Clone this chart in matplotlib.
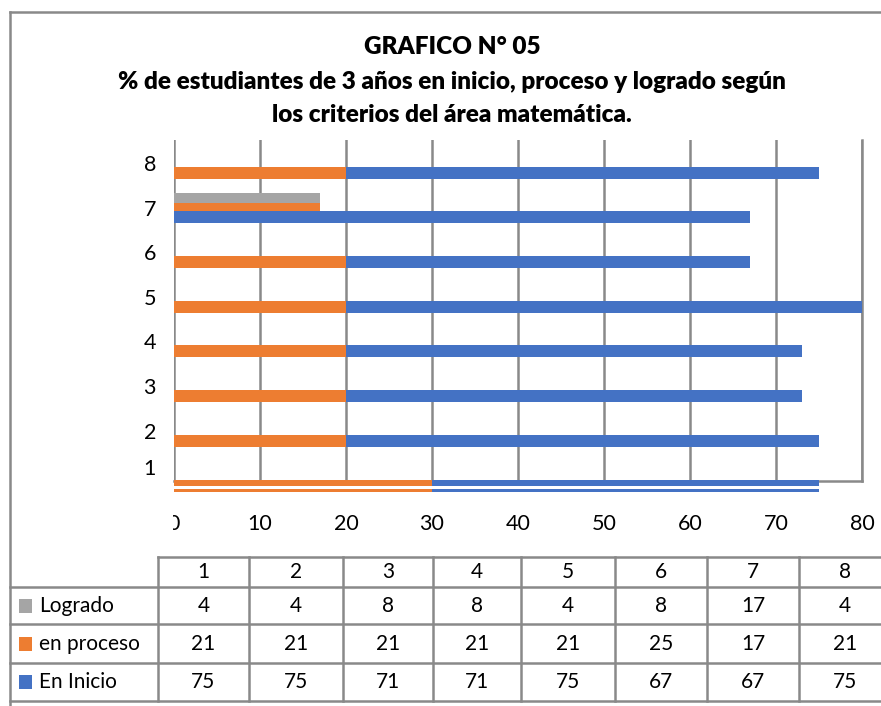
import matplotlib
matplotlib.use("Agg")
import matplotlib.pyplot as plt
from matplotlib.patches import Rectangle
from matplotlib.lines import Line2D

# ---- data ----
categories = ["1", "2", "3", "4", "5", "6", "7", "8"]
series_names = ["Logrado", "en proceso", "En Inicio"]
logrado = [4, 4, 8, 8, 4, 8, 17, 4]
en_proceso = [21, 21, 21, 21, 21, 25, 17, 21]
en_inicio = [75, 75, 71, 71, 75, 67, 67, 75]

# bar lengths as drawn in the picture
bar_inicio = [75, 75, 73, 73, 80, 67, 67, 75]
bar_proceso = [30, 20, 20, 20, 20, 20, 17, 20]
bar_logrado = [0, 0, 0, 0, 0, 0, 17, 0]

x_ticks = [0, 10, 20, 30, 40, 50, 60, 70, 80]

C_BLUE = "#4472C4"
C_ORANGE = "#ED7D31"
C_GRAY = "#A5A5A5"
C_GRID = "#898989"

FONT = "Lato"
plt.rcParams["font.family"] = [FONT, "DejaVu Sans"]

W, H = 881, 706
fig = plt.figure(figsize=(W / 100, H / 100), dpi=100)


def fx(x):
    return x / W


def fy(y):
    return 1 - y / H


ax = fig.add_axes([fx(174), fy(481), fx(862) - fx(174), fy(140) - fy(481)])
ax.set_xlim(0, 80)
ax.set_ylim(0.87, 8.516)

u = 1 / 44.6  # one pixel in y data units
for i, cat in enumerate(categories):
    k = i + 1
    if k == 7:
        ax.barh(k + 10 * u, bar_logrado[i], height=10 * u, color=C_GRAY, zorder=3)
        ax.barh(k + 1 * u, bar_proceso[i], height=8 * u, color=C_ORANGE, zorder=3)
        ax.barh(k - 9 * u, bar_inicio[i], height=12 * u, color=C_BLUE, zorder=3)
    elif k == 1:
        for off, hh in [(-7.5 * u, 6 * u), (-15 * u, 3 * u)]:
            ax.barh(k + off, bar_inicio[i], height=hh, color=C_BLUE, zorder=3, clip_on=False)
            ax.barh(k + off, bar_proceso[i], height=hh, color=C_ORANGE, zorder=4, clip_on=False)
    else:
        ax.barh(k - 10 * u, bar_inicio[i], height=12 * u, color=C_BLUE, zorder=3)
        ax.barh(k - 10 * u, bar_proceso[i], height=12 * u, color=C_ORANGE, zorder=4)

ax.set_xticks(x_ticks)
ax.set_xticklabels([str(t) for t in x_ticks])
ytick_pos = [1.18] + list(range(2, 9))
ax.set_yticks(ytick_pos)
ax.set_yticklabels(categories)
ax.tick_params(axis="both", length=0, labelsize=15.5, colors="#000000")
ax.tick_params(axis="y", pad=13)
ax.tick_params(axis="x", pad=24)
ax.grid(axis="x", color=C_GRID, linewidth=1.8, zorder=1)
ax.set_axisbelow(True)
for s in ["top", "left"]:
    ax.spines[s].set_visible(False)
for s in ["right", "bottom"]:
    ax.spines[s].set_color(C_GRID)
    ax.spines[s].set_linewidth(1.8)

# clip the "0" tick label like in the reference
fig.add_artist(Rectangle((fx(11), fy(545)), fx(173) - fx(11), fy(505) - fy(545),
                         transform=fig.transFigure, facecolor="white",
                         edgecolor="none", zorder=10))

# ---- title ----
title_lines = ["GRAFICO N° 05",
               "% de estudiantes de 3 años en inicio, proceso y logrado según",
               "los criterios del área matemática."]
for yy, t in zip([47, 82, 115], title_lines):
    fig.text(fx(452), fy(yy), t, ha="center", va="center", fontsize=17.5,
             fontweight="heavy", color="#000000")

# ---- outer frame ----
def hline(x0, x1, y, lw=1.8):
    fig.add_artist(Line2D([fx(x0), fx(x1)], [fy(y), fy(y)], color=C_GRID,
                          linewidth=lw, transform=fig.transFigure, zorder=11))


def vline(x, y0, y1, lw=1.8):
    fig.add_artist(Line2D([fx(x), fx(x)], [fy(y0), fy(y1)], color=C_GRID,
                          linewidth=lw, transform=fig.transFigure, zorder=11))


hline(10, W, 12)
vline(10, 12, H)

# ---- data table ----
row_y = [557, 587, 624, 663, 701]
col_x = [158, 249, 343, 433, 521, 615, 707, 799, W]
hline(158, W, row_y[0])
for yy in row_y[1:]:
    hline(10, W, yy)
for xx in col_x[:-1]:
    vline(xx, row_y[0], row_y[-1])

TFS = 15
for j, cat in enumerate(categories):
    cx = (col_x[j] + col_x[j + 1]) / 2 if j < 7 else 845
    fig.text(fx(cx), fy((row_y[0] + row_y[1]) / 2), cat, ha="center",
             va="center", fontsize=TFS)

rows = [(series_names[0], logrado, C_GRAY),
        (series_names[1], en_proceso, C_ORANGE),
        (series_names[2], en_inicio, C_BLUE)]
for r, (name, vals, col) in enumerate(rows):
    yc = (row_y[r + 1] + row_y[r + 2]) / 2
    fig.add_artist(Rectangle((fx(19), fy(yc + 7)), fx(32) - fx(19), fy(yc - 7) - fy(yc + 7),
                             transform=fig.transFigure, facecolor=col,
                             edgecolor="none", zorder=12))
    fig.text(fx(39), fy(yc), name, ha="left", va="center", fontsize=TFS)
    for j, v in enumerate(vals):
        cx = (col_x[j] + col_x[j + 1]) / 2 if j < 7 else 845
        fig.text(fx(cx), fy(yc), str(v), ha="center", va="center", fontsize=TFS)

fig.savefig("out.png", dpi=100, facecolor="white")
